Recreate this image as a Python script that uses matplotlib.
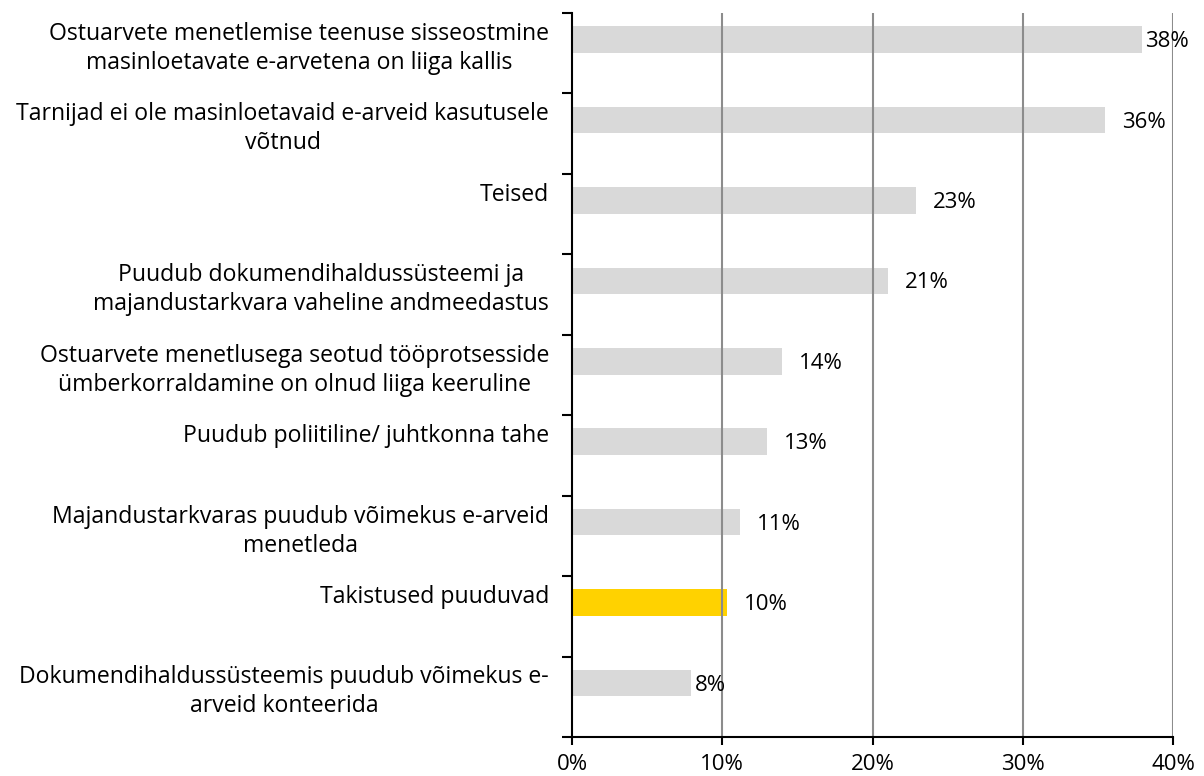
import matplotlib.pyplot as plt

# takistused e-arvete kasutuselevõtul (osakaal vastajatest, %)
takistused = [
    "Ostuarvete menetlemise teenuse sisseostmine\nmasinloetavate e-arvetena on liiga kallis",
    "Tarnijad ei ole masinloetavaid e-arveid kasutusele\nvõtnud",
    "Teised",
    "Puudub dokumendihaldussüsteemi ja\nmajandustarkvara vaheline andmeedastus",
    "Ostuarvete menetlusega seotud tööprotsesside\nümberkorraldamine on olnud liiga keeruline",
    "Puudub poliitiline/ juhtkonna tahe",
    "Majandustarkvaras puudub võimekus e-arveid\nmenetleda",
    "Takistused puuduvad",
    "Dokumendihaldussüsteemis puudub võimekus e-\narveid konteerida",
]
osakaal = [37.9, 35.5, 22.9, 21.0, 14.0, 13.0, 11.2, 10.3, 7.9]
esile = "Takistused puuduvad"
x_ticks = [0, 10, 20, 30, 40]

plt.rcParams["font.family"] = ["Open Sans", "DejaVu Sans"]
fs = 16

fig = plt.figure(figsize=(12.04, 7.76), dpi=100)
ax = fig.add_axes([0.4751, 0.0503, 0.4992, 0.9329])

n = len(takistused)
nihe = 0.17  # tulbad on lahtris veidi ülespoole nihutatud
y = [k + nihe for k in range(n)][::-1]
varvid = ["#ffd200" if t == esile else "#d9d9d9" for t in takistused]
ax.barh(y, osakaal, height=0.33, color=varvid, zorder=1)

ax.set_xlim(0, 40)
ax.set_ylim(-0.5, n - 0.5)

# vertikaalsed abijooned
for xv in x_ticks[1:]:
    ax.axvline(xv, color="#8c8c8c", lw=1.5, zorder=2)

ax.set_xticks(x_ticks)
ax.set_xticklabels([f"{v}%" for v in x_ticks], fontsize=fs)
ax.set_yticks([k + 0.5 for k in range(-1, n)])
ax.set_yticklabels([])
ax.tick_params(axis="x", length=6, width=1.5, pad=6)
ax.tick_params(axis="y", length=7, width=1.5)
for s in ["top", "right"]:
    ax.spines[s].set_visible(False)
for s in ["left", "bottom"]:
    ax.spines[s].set_linewidth(1.5)

# kategooriate nimed vasakul
for yi, t in zip(y, takistused):
    ax.annotate(t, (0, yi + 0.22), xycoords=("axes fraction", "data"),
                xytext=(-23, 0), textcoords="offset pixels",
                ha="right", va="top", multialignment="center",
                fontsize=16.6, linespacing=1.28)

# väärtuste sildid
for yi, v in zip(y, osakaal):
    pad = 4 if v > 37 or v < 9 else 17
    ax.annotate(f"{v:.0f}%", (v, yi), xytext=(pad, -2), textcoords="offset pixels",
                ha="left", va="center", fontsize=fs, zorder=3)

fig.savefig("out.png", dpi=100)
